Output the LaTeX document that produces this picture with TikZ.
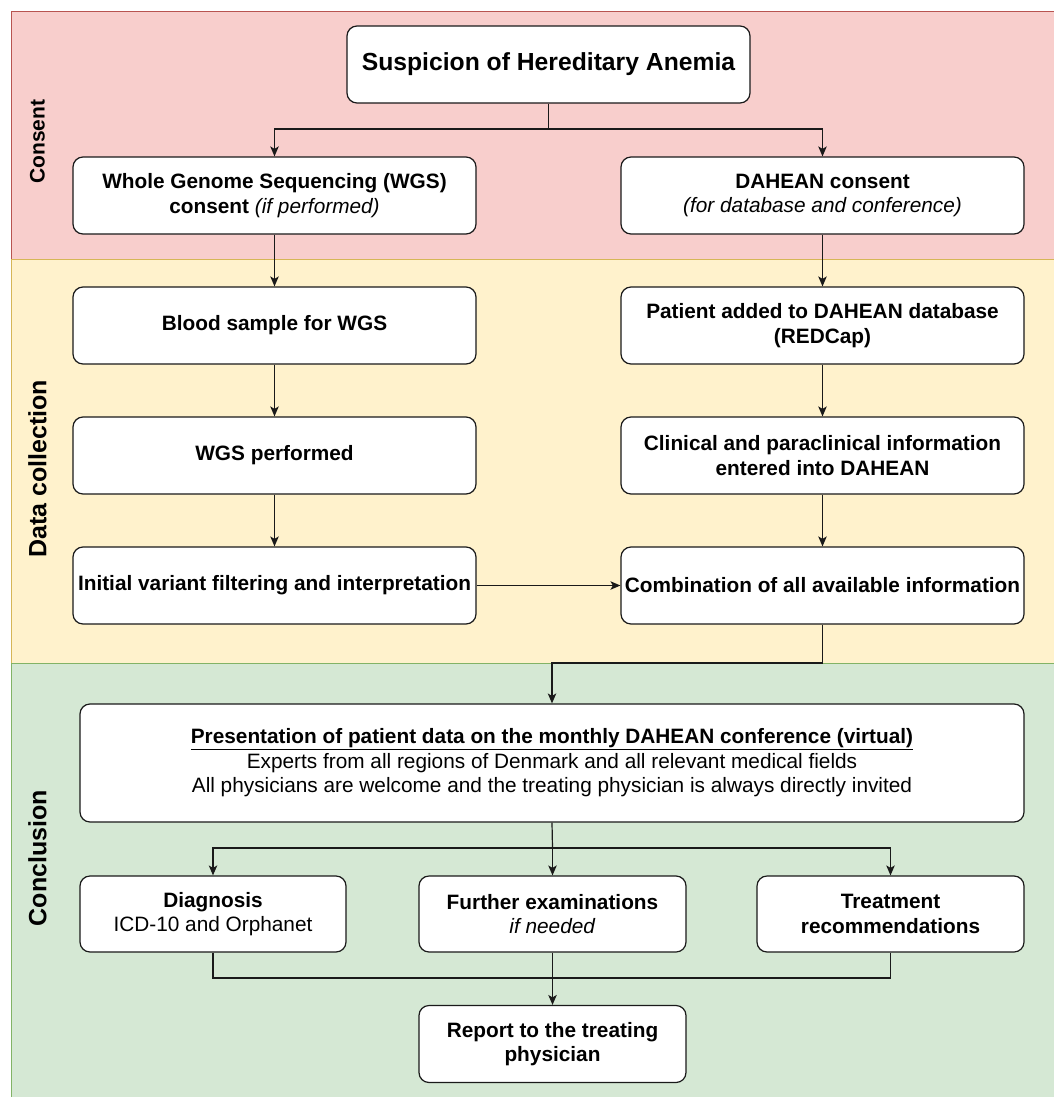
\documentclass[tikz,border=0pt]{standalone}
\usepackage{fontspec}
\setmainfont{Liberation Sans}
\usetikzlibrary{arrows.meta}
\definecolor{pinkF}{HTML}{F8CECC}\definecolor{pinkD}{HTML}{B85450}
\definecolor{yelF}{HTML}{FFF2CC}\definecolor{yelD}{HTML}{D6B656}
\definecolor{grnF}{HTML}{D5E8D4}\definecolor{grnD}{HTML}{82B366}
\definecolor{lineC}{HTML}{1A1A1A}
\tikzset{
  box/.style={draw=lineC, fill=white, rounded corners=10pt, line width=1.2pt,
    minimum width=403pt, minimum height=77pt, align=center, inner sep=2pt,
    font=\fontsize{20.8}{24.5}\selectfont},
  lanelbl/.style={rotate=90, font=\fontsize{25}{28}\selectfont\bfseries},
  arr/.style={draw=lineC, line width=1.2pt, -{Stealth[length=10pt,width=8.5pt,inset=2.5pt]}},
  ln/.style={draw=lineC, line width=1.2pt}
}
\begin{document}
\begin{tikzpicture}[x=1pt,y=-1pt]
\useasboundingbox (0,0) rectangle (1053,1097);
\fill[white] (0,0) rectangle (1053,1097);
% lanes
\draw[fill=pinkF, draw=pinkD, line width=1pt] (11,12) rectangle (1070,259);
\draw[fill=yelF, draw=yelD, line width=1pt] (11,259) rectangle (1070,663);
\draw[fill=grnF, draw=grnD, line width=1pt] (11,663) rectangle (1070,1110);
\node[lanelbl, font=\fontsize{21}{24}\selectfont\bfseries] (lc) at (37.5,141.5) {Consent};
\node[lanelbl] (ld) at (37.5,469) {Data collection};
\node[lanelbl] (lo) at (37.5,858) {Conclusion};
% nodes
\node[box, font=\fontsize{24.7}{28}\selectfont\bfseries] (title) at (548.5,64.5) {Suspicion of Hereditary Anemia};
\node[box] (wgsc) at (274.5,195.5) {\textbf{Whole Genome Sequencing (WGS)}\\\textbf{consent} \textit{(if performed)}};
\node[box] (dahc) at (822.5,195.5) {\textbf{DAHEAN consent}\\\textit{(for database and conference)}};
\node[box] (blood) at (274.5,325.5) {\textbf{Blood sample for WGS}};
\node[box] (pat) at (822.5,325.5) {\textbf{Patient added to DAHEAN database}\\\textbf{(REDCap)}};
\node[box] (wgsp) at (274.5,455.5) {\textbf{WGS performed}};
\node[box] (clin) at (822.5,455.5) {\textbf{Clinical and paraclinical information}\\\textbf{entered into DAHEAN}};
\node[box] (init) at (274.5,585.5) {\textbf{Initial variant filtering and interpretation}};
\node[box] (comb) at (822.5,585.5) {\textbf{Combination of all available information}};
\node[box, minimum width=944pt, minimum height=118pt] (pres) at (552,763) {\textbf{\underline{Presentation of patient data on the monthly DAHEAN conference (virtual)}}\\Experts from all regions of Denmark and all relevant medical fields\\All physicians are welcome and the treating physician is always directly invited};
\node[box, minimum width=266pt, minimum height=76pt] (diag) at (213,914) {\textbf{Diagnosis}\\ICD-10 and Orphanet};
\node[box, minimum width=267pt, minimum height=76pt] (fur) at (552.5,914) {\textbf{Further examinations}\\\textit{if needed}};
\node[box, minimum width=267pt, minimum height=76pt] (treat) at (890.5,914) {\textbf{Treatment}\\\textbf{recommendations}};
\node[box, minimum width=267pt, minimum height=77pt] (rep) at (552.5,1044) {\textbf{Report to the treating}\\\textbf{physician}};
% junctions
\coordinate (j1) at (548.5,129);
\coordinate (j2) at (822.5,663);
\coordinate (j3) at (552.5,848);
\coordinate (j4) at (552.5,978);
% connectors
\draw[ln] (title.south) -- (j1);
\draw[arr] (j1) -| (wgsc.north);
\draw[arr] (j1) -| (dahc.north);
\draw[arr] (wgsc) -- (blood);
\draw[arr] (dahc) -- (pat);
\draw[arr] (blood) -- (wgsp);
\draw[arr] (pat) -- (clin);
\draw[arr] (wgsp) -- (init);
\draw[arr] (clin) -- (comb);
\draw[arr] (init) -- (comb);
\draw[arr] (comb.south) -- (j2) -| (pres.north);
\draw[ln] (pres.south) -- (j3);
\draw[arr] (j3) -| (diag.north);
\draw[arr] (j3) -| (treat.north);
\draw[arr] (j3) -- (fur.north);
\draw[ln] (diag.south) |- (j4);
\draw[ln] (treat.south) |- (j4);
\draw[arr] (fur) -- (rep);
\end{tikzpicture}
\end{document}
